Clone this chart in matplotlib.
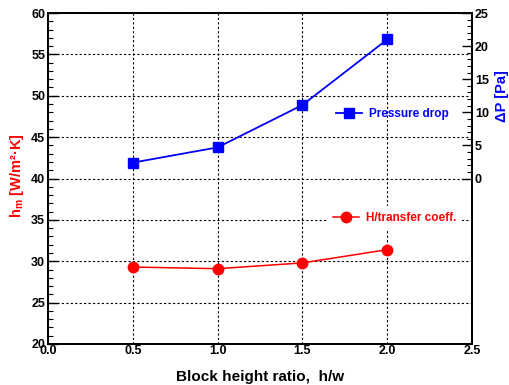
import matplotlib
matplotlib.use("Agg")
import matplotlib.pyplot as plt
from matplotlib.ticker import FixedLocator, MultipleLocator
import numpy as np

plt.rcParams["font.family"] = ["Liberation Sans", "DejaVu Sans"]
plt.rcParams["font.weight"] = "bold"

# block height ratio h/w
ratio = [0.5, 1.0, 1.5, 2.0]
# heat transfer coefficient [W/m2K]
h_coeff = [29.3, 29.1, 29.8, 31.4]
# pressure drop [Pa]
dp = [2.4, 4.7, 11.1, 21.0]

x_ticks = [0.0, 0.5, 1.0, 1.5, 2.0, 2.5]
h_ticks = [20, 25, 30, 35, 40, 45, 50, 55, 60]
dp_ticks = [0, 5, 10, 15, 20, 25]

fig = plt.figure(figsize=(5.09, 3.85), dpi=100)
ax = fig.add_axes([0.0943, 0.1065, 0.833, 0.8597])
ax2 = ax.twinx()

ax.set_xlim(0, 2.5)
ax.set_ylim(20, 60)
ax2.set_ylim(-25, 25)

ax.set_xticks(x_ticks)
ax.set_xticklabels([f"{t:.1f}" for t in x_ticks])
ax.set_yticks(h_ticks)
ax.yaxis.set_minor_locator(MultipleLocator(1))
ax2.set_yticks(dp_ticks)
ax2.yaxis.set_minor_locator(FixedLocator(np.arange(0, 26, 1)))

ax.tick_params(axis="x", length=0, pad=1, labelsize=9)
ax.tick_params(axis="y", which="major", direction="in", length=7, width=1,
               labelsize=9, pad=2)
ax.tick_params(axis="y", which="minor", direction="in", length=3.5, width=0.8)
ax2.tick_params(axis="y", which="major", direction="in", length=7, width=1,
                labelsize=9, pad=2)
ax2.tick_params(axis="y", which="minor", direction="in", length=3.5, width=0.8)
for t in ax.get_xticklabels() + ax.get_yticklabels() + ax2.get_yticklabels():
    t.set_fontweight("bold")

for sp in list(ax.spines.values()) + list(ax2.spines.values()):
    sp.set_linewidth(1.3)

ax.grid(True, which="major", color="black", linestyle=(0, (2, 2)),
        linewidth=0.8)
ax.set_axisbelow(True)

ax.plot(ratio, h_coeff, color="red", marker="o", markersize=7.5,
        linewidth=1.1, label="H/transfer coeff.")
ax2.plot(ratio, dp, color="blue", marker="s", markersize=7.5,
         linewidth=1.3, label="Pressure drop")

ax.set_xlabel("Block height ratio,  h/w", fontsize=11, fontweight="bold",
              labelpad=9)
ax.set_ylabel(r"h$_\mathregular{m}$ [W/m²·K]", fontsize=10.5,
              fontweight="bold", color="red")
ax.yaxis.set_label_coords(-0.052, 0.51)
ax2.set_ylabel("ΔP [Pa]", fontsize=10.5, fontweight="bold", color="blue")
ax2.yaxis.set_label_coords(1.054, 0.75)

leg2 = ax2.legend(loc="center left", bbox_to_anchor=(0.655, 0.695),
                  frameon=False, handlelength=2.2, handletextpad=0.6,
                  prop={"weight": "bold", "size": 8.5})
for txt in leg2.get_texts():
    txt.set_color("blue")

# heat transfer legend sits on a plain white box over the grid
leg1 = ax.legend(loc="center left", bbox_to_anchor=(0.653, 0.381),
                 frameon=True, fancybox=False, framealpha=1,
                 borderpad=0.5, borderaxespad=0.2,
                 handlelength=2.2, handletextpad=0.6,
                 prop={"weight": "bold", "size": 8.5})
leg1.get_frame().set_edgecolor("white")
leg1.get_frame().set_linewidth(0)
for txt in leg1.get_texts():
    txt.set_color("red")

fig.savefig("out.png", dpi=100)
